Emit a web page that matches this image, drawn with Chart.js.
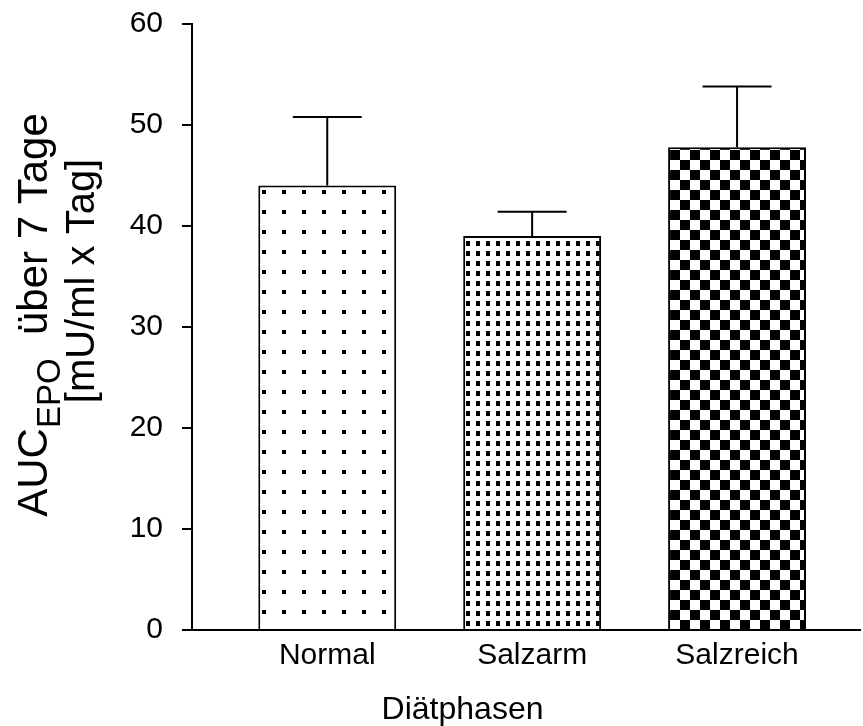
<!DOCTYPE html>
<html>
<head>
<meta charset="utf-8">
<script src="https://cdn.jsdelivr.net/npm/chart.js"></script>
<style>
  *{box-sizing:border-box;margin:0;padding:0}
  body{background:#fff;width:863px;height:726px;overflow:hidden}
</style>
</head>
<body>
<canvas id="chart" width="863" height="726"></canvas>
<script>
// data
const categories = ["Normal", "Salzarm", "Salzreich"];
const means = [44.0, 39.0, 47.8];
const sem = [6.8, 2.4, 6.0];
const yTicks = [0, 10, 20, 30, 40, 50, 60];
const xTitle = "Diätphasen";
const yTitleMain = "AUC", yTitleSub = "EPO", yTitleRest = "  über 7 Tage";
const yTitleLine2 = "[mU/ml x Tag]";

const FONT = "'Liberation Sans', Arial, sans-serif";

// fill patterns for the three bars
function makePattern(kind) {
  const c = document.createElement("canvas");
  const ctx = c.getContext("2d");
  if (kind === "sparse") {
    c.width = 20; c.height = 20;
    ctx.fillStyle = "#fff"; ctx.fillRect(0, 0, 20, 20);
    ctx.fillStyle = "#000"; ctx.fillRect(2, 10, 4, 4);
  } else if (kind === "dense") {
    c.width = 10; c.height = 10;
    ctx.fillStyle = "#fff"; ctx.fillRect(0, 0, 10, 10);
    ctx.fillStyle = "#000"; ctx.fillRect(6, 1, 5, 5);
  } else {
    c.width = 20; c.height = 20;
    ctx.fillStyle = "#fff"; ctx.fillRect(0, 0, 20, 20);
    ctx.fillStyle = "#000"; ctx.fillRect(0, 0, 10, 10); ctx.fillRect(10, 10, 10, 10);
  }
  return ctx.createPattern(c, "repeat");
}
const fills = [makePattern("sparse"), makePattern("dense"), makePattern("checker")];

// upper error bars with a cap half as wide as the bar
const errorBars = {
  id: "errorBars",
  afterDatasetsDraw(chart) {
    const ctx = chart.ctx, y = chart.scales.y;
    const meta = chart.getDatasetMeta(0);
    ctx.save();
    ctx.strokeStyle = "#000"; ctx.lineWidth = 2;
    meta.data.forEach((bar, i) => {
      const top = y.getPixelForValue(means[i] + sem[i]);
      const half = bar.width / 4;
      ctx.beginPath();
      ctx.moveTo(bar.x, bar.y); ctx.lineTo(bar.x, top);
      ctx.moveTo(bar.x - half, top); ctx.lineTo(bar.x + half, top);
      ctx.stroke();
    });
    ctx.restore();
  }
};

// axis titles (the y title needs a subscript)
const axisTitles = {
  id: "axisTitles",
  afterDraw(chart) {
    const ctx = chart.ctx, a = chart.chartArea;
    ctx.save();
    ctx.fillStyle = "#000";
    // x title
    ctx.font = "32px " + FONT;
    ctx.textAlign = "center"; ctx.textBaseline = "alphabetic";
    ctx.fillText(xTitle, a.left + (a.right - a.left) * 0.405, 719);
    // y title, rotated (x in rotated space = -canvas y)
    ctx.rotate(-Math.PI / 2);
    const big = "42px " + FONT, small = "33px " + FONT;
    ctx.font = big; const w1 = ctx.measureText(yTitleMain).width;
    const w3 = ctx.measureText(yTitleRest).width;
    ctx.font = small; const w2 = ctx.measureText(yTitleSub).width;
    let x = -315 - (w1 + w2 + w3) / 2;
    ctx.textAlign = "left";
    ctx.font = big; ctx.fillText(yTitleMain, x, 47); x += w1;
    ctx.font = small; ctx.fillText(yTitleSub, x, 60); x += w2;
    ctx.font = big; ctx.fillText(yTitleRest, x, 47);
    ctx.font = "40px " + FONT;
    ctx.textAlign = "center";
    ctx.fillText(yTitleLine2, -281, 94);
    ctx.restore();
  }
};

new Chart(document.getElementById("chart"), {
  type: "bar",
  data: {
    datasets: [{
      data: means.map((v, i) => ({ x: i + 1, y: v })),
      backgroundColor: fills,
      borderColor: "#000",
      borderWidth: 2,
      borderSkipped: "bottom",
      barPercentage: 0.673,
      categoryPercentage: 1
    }]
  },
  options: {
    responsive: false,
    animation: false,
    devicePixelRatio: 1,
    layout: { autoPadding: false, padding: { top: 24, right: 3, left: 0, bottom: 0 } },
    plugins: { legend: { display: false }, tooltip: { enabled: false } },
    scales: {
      x: {
        type: "linear", min: 0.34, max: 3.6, offset: false, bounds: "data",
        afterBuildTicks: s => { s.ticks = categories.map((c, i) => ({ value: i + 1 })); },
        afterFit: s => { s.height = 96; },
        grid: { display: true, offset: false, drawOnChartArea: false, drawTicks: false },
        border: { display: true, color: "#000", width: 2 },
        ticks: { autoSkip: false, maxRotation: 0, padding: 8, color: "#000", font: { family: FONT, size: 30 },
          callback: v => categories[v - 1] }
      },
      y: {
        min: 0, max: 60,
        afterBuildTicks: s => { s.ticks = yTicks.map(v => ({ value: v })); },
        afterFit: s => { s.width = 192; },
        grid: { display: true, drawOnChartArea: false, drawTicks: true, tickLength: 10, color: "#000", lineWidth: 2 },
        border: { display: true, color: "#000", width: 2 },
        ticks: { padding: 19, color: "#000", font: { family: FONT, size: 30, lineHeight: 0.25 } }
      }
    }
  },
  plugins: [errorBars, axisTitles]
});
</script>
</body>
</html>
